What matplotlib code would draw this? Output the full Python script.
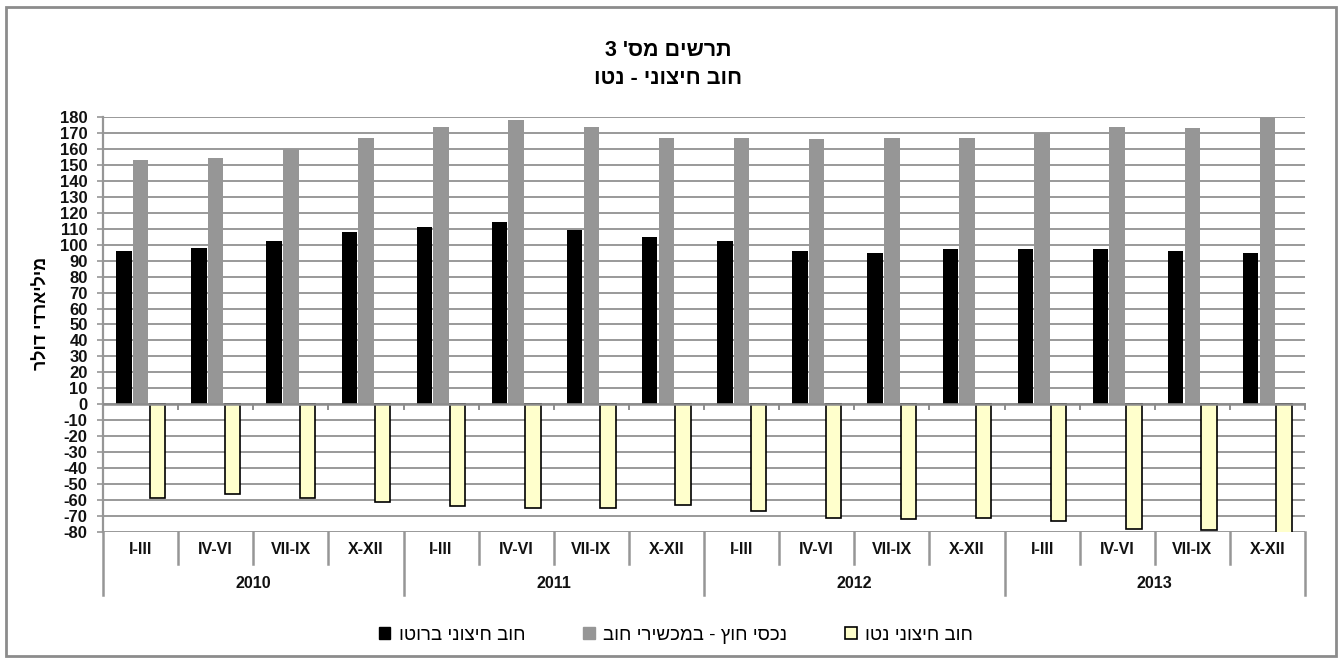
import matplotlib
matplotlib.use("Agg")
import matplotlib.pyplot as plt
from matplotlib.patches import Patch, Rectangle
from matplotlib.lines import Line2D
import numpy as np

plt.rcParams['font.family'] = ['Liberation Sans', 'DejaVu Sans']

# ---- data ----
years = ["2010", "2011", "2012", "2013"]
quarters = ["I-III", "IV-VI", "VII-IX", "X-XII"]
gross_debt = [96, 98, 102, 108, 111, 114, 109, 105, 102, 96, 95, 97, 97, 97, 96, 95]
assets_debt = [153, 154, 160, 167, 174, 178, 174, 167, 167, 166, 167, 167, 170, 174, 173, 182]
net_debt = [-59, -56, -59, -61, -64, -65, -65, -63, -67, -71, -72, -71, -73, -78, -79, -86]

title_line1 = "תרשים מס' 3"
title_line2 = "חוב חיצוני - נטו"
y_label = "מיליארדי דולר"
series_names = ["חוב חיצוני ברוטו", "נכסי חוץ - במכשירי חוב", "חוב חיצוני נטו"]
yticks = list(range(-80, 181, 10))


def vis(s):
    # convert logical Hebrew order to visual order for LTR renderer
    return s[::-1]


W, H = 1341, 662
fig = plt.figure(figsize=(W / 100, H / 100), dpi=100)
fig.patch.set_facecolor("white")

left_px, right_px, top_px, bot_px = 103, 1305, 117, 532
ax = fig.add_axes([left_px / W, 1 - bot_px / H, (right_px - left_px) / W, (bot_px - top_px) / H])

n = len(gross_debt)
x = np.arange(n)
bw = 0.205
off = 0.222

ax.bar(x - off, gross_debt, width=bw, color="#000000", zorder=3)
ax.bar(x, assets_debt, width=bw, color="#969696", zorder=3)
ax.bar(x + off, net_debt, width=bw, color="#FFFFCC", edgecolor="#000000", linewidth=1.2, zorder=3)

ax.set_xlim(-0.5, n - 0.5)
ax.set_ylim(-80, 180)
ax.set_yticks(yticks)
ax.set_yticklabels([str(v) for v in yticks], fontsize=12, fontweight="bold", color="#111111")
ax.tick_params(axis="y", length=4, width=1.2, color="#969696", pad=7)
ax.set_xticks([])

ax.yaxis.grid(True, color="#999999", linewidth=1.4)
ax.set_axisbelow(True)
for s in ["top", "right", "bottom"]:
    ax.spines[s].set_visible(False)
ax.spines["left"].set_color("#969696")
ax.spines["left"].set_linewidth(1.6)

# zero axis line with category tick marks
ax.axhline(0, color="#8c8c8c", linewidth=1.8, zorder=4)
for k in range(1, n + 1):
    ax.plot([k - 0.5, k - 0.5], [0, -3.2], color="#8c8c8c", linewidth=1.4, zorder=4, clip_on=False)

# multi-level category labels
ax_h = bot_px - top_px
tr = ax.get_xaxis_transform()
q_y = -(550 - bot_px) / ax_h
y_y = -(583 - bot_px) / ax_h
q_line = -(564 - bot_px) / ax_h
y_line = -(595 - bot_px) / ax_h
for i in range(n):
    ax.text(i, q_y, quarters[i % 4], transform=tr, ha="center", va="center",
            fontsize=11.5, fontweight="bold", color="#111111")
for j, yr in enumerate(years):
    ax.text(j * 4 + 1.5, y_y, yr, transform=tr, ha="center", va="center",
            fontsize=11.5, fontweight="bold", color="#111111")
for k in range(0, n + 1):
    bottom = y_line if k % 4 == 0 else q_line
    ax.add_line(Line2D([k - 0.5, k - 0.5], [0, bottom], transform=tr, color="#969696",
                       linewidth=1.8, clip_on=False))

# titles
fig.text(668 / W, 1 - 51 / H, vis(title_line1), ha="center", va="center", fontsize=15.5, fontweight="bold")
fig.text(668 / W, 1 - 78 / H, vis(title_line2), ha="center", va="center", fontsize=15.5, fontweight="bold")

# y label
fig.text(42 / W, 1 - 313 / H, vis(y_label), ha="center", va="center", rotation=90, fontsize=12.8,
         fontweight="bold")

# legend
handles = [Patch(facecolor="#000000", edgecolor="#000000"),
           Patch(facecolor="#969696", edgecolor="#969696"),
           Patch(facecolor="#FFFFCC", edgecolor="#000000", linewidth=1.2)]
fig.legend(handles, [vis(s) for s in series_names], loc="center", bbox_to_anchor=(676 / W, 1 - 635 / H),
           ncol=3, frameon=False, fontsize=13.5, handlelength=0.6, handleheight=0.6,
           handletextpad=0.45, columnspacing=3.1)

# outer border
fig.patches.append(Rectangle((6 / W, 1 - 656 / H), (1336 - 6) / W, (656 - 7) / H,
                             transform=fig.transFigure, fill=False, edgecolor="#8c8c8c", linewidth=2))

fig.savefig("out.png", dpi=100, facecolor="white")
